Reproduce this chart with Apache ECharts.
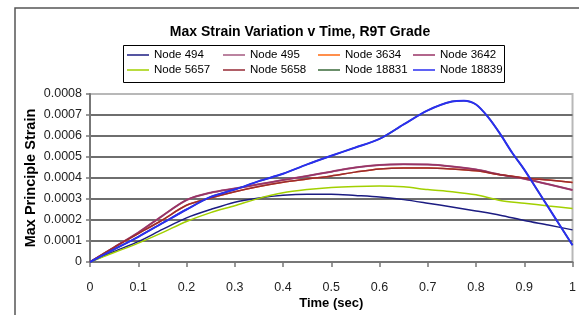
<!DOCTYPE html>
<html>
<head>
<meta charset="utf-8">
<script src="https://cdn.jsdelivr.net/npm/echarts@6/dist/echarts.min.js"></script>
<style>
html,body{margin:0;padding:0;background:#fff;}
#chart{width:579px;height:315px;}
</style>
</head>
<body>
<div id="chart"></div>
<script>
// ---- data ----
const timeSteps = [0,0.05,0.1,0.15,0.2,0.25,0.3,0.35,0.4,0.45,0.5,0.55,0.6,0.65,0.7,0.75,0.8,0.85,0.9,0.95,1];
const node494  = [0,0.00005,0.000097,0.000155,0.00021,0.00025,0.000285,0.000305,0.000318,0.000323,0.000323,0.000317,0.00031,0.000297,0.00028,0.000262,0.000243,0.000223,0.000198,0.000176,0.000153];
const node495  = [0,0.00007,0.00014,0.00022,0.000295,0.00033,0.00035,0.00037,0.00039,0.00041,0.00043,0.00045,0.000462,0.000465,0.000464,0.000455,0.00044,0.000416,0.000396,0.00037,0.000343];
const node3634 = [0,0.00007,0.000135,0.0002,0.00027,0.000305,0.000335,0.00036,0.00038,0.000395,0.00041,0.000428,0.000443,0.000448,0.000448,0.000443,0.000434,0.000416,0.0004,0.00039,0.000379];
const node3642 = [0,0.00007,0.00014,0.00022,0.000295,0.00033,0.00035,0.00037,0.00039,0.00041,0.00043,0.00045,0.000462,0.000465,0.000464,0.000455,0.00044,0.000416,0.000396,0.00037,0.000343];
const node5657 = [0,0.000045,0.00009,0.00014,0.000193,0.000235,0.000268,0.000303,0.00033,0.000345,0.000355,0.00036,0.000362,0.000358,0.000345,0.000335,0.00032,0.000293,0.00028,0.000267,0.000255];
const node5658 = [0,0.00007,0.000135,0.0002,0.00027,0.000305,0.000335,0.00036,0.00038,0.000395,0.00041,0.000428,0.000443,0.000448,0.000448,0.000443,0.000434,0.000416,0.0004,0.00039,0.000379];
const time18839 = [0,0.05,0.1,0.15,0.2,0.25,0.3,0.35,0.4,0.45,0.5,0.55,0.6,0.65,0.7,0.75,0.775,0.8,0.825,0.85,0.875,0.9,0.925,0.95,0.975,1];
const node18831 = [0,0.00006,0.00012,0.000185,0.00025,0.00031,0.000345,0.000385,0.00042,0.000465,0.000506,0.000545,0.000586,0.000655,0.000722,0.000764,0.000768,0.00075,0.00069,0.00061,0.00052,0.00044,0.00035,0.00026,0.00017,0.00008];
const node18839 = [0,0.00006,0.00012,0.000185,0.00025,0.00031,0.000345,0.000385,0.00042,0.000465,0.000506,0.000545,0.000586,0.000655,0.000722,0.000764,0.000768,0.00075,0.00069,0.00061,0.00052,0.00044,0.00035,0.00026,0.00017,0.00008];
const yTickLabels = ['0','0.0001','0.0002','0.0003','0.0004','0.0005','0.0006','0.0007','0.0008'];
const xTickLabels = ['0','0.1','0.2','0.3','0.4','0.5','0.6','0.7','0.8','0.9','1'];

const REG = '"Liberation Sans",Arial,sans-serif';

function pairs(t, v){ return t.map((x,i)=>[x, v[i]]); }

const seriesDefs = [
  {name:'Node 494',   t:timeSteps, v:node494,   color:'#1c1c82', w:1.5},
  {name:'Node 495',   t:timeSteps, v:node495,   color:'#a45a80', w:2},
  {name:'Node 3634',  t:timeSteps, v:node3634,  color:'#ff6a10', w:1.5},
  {name:'Node 3642',  t:timeSteps, v:node3642,  color:'#993366', w:1.5},
  {name:'Node 5657',  t:timeSteps, v:node5657,  color:'#a2d000', w:1.5},
  {name:'Node 5658',  t:timeSteps, v:node5658,  color:'#962a34', w:1.5},
  {name:'Node 18831', t:time18839, v:node18831, color:'#3a6a3a', w:1.5},
  {name:'Node 18839', t:time18839, v:node18839, color:'#2a2ef0', w:2}
];

const chart = echarts.init(document.getElementById('chart'), null, {renderer:'canvas'});

const legendCommon = {
  orient:'vertical', top:49, itemWidth:22, itemHeight:14, itemGap:3, padding:0,
  icon:'path://M0,6 L22,6 L22,7.5 L0,7.5 Z',
  textStyle:{fontFamily:REG, fontSize:11.5, color:'#000'},
  selectedMode:false
};

chart.setOption({
  backgroundColor:'#fff',
  animation:false,
  title:{
    text:'Max Strain Variation v Time, R9T Grade',
    left:300, top:25, textAlign:'center', padding:0,
    textStyle:{fontFamily:REG, fontSize:14, fontWeight:'bold', color:'#000'}
  },
  legend:[
    Object.assign({}, legendCommon, {left:127, data:['Node 494','Node 5657']}),
    Object.assign({}, legendCommon, {left:223, data:['Node 495','Node 5658']}),
    Object.assign({}, legendCommon, {left:318, data:['Node 3634','Node 18831']}),
    Object.assign({}, legendCommon, {left:413, data:['Node 3642','Node 18839']})
  ],
  graphic:[
    {type:'rect', shape:{x:15, y:8, width:700, height:400}, style:{fill:null, stroke:'#555', lineWidth:1.5}, silent:true, z:-10},
    {type:'rect', shape:{x:123.5, y:45.5, width:381, height:37}, style:{fill:null, stroke:'#000', lineWidth:1}, silent:true}
  ],
  grid:{left:90, right:2, top:94, bottom:49, show:true, borderColor:'#b8b8b8', borderWidth:2},
  xAxis:{
    type:'value', min:0, max:1, interval:0.1,
    name:'Time (sec)', nameLocation:'middle', nameGap:35, nameMoveOverlap:false,
    nameTextStyle:{fontFamily:REG, fontSize:13, fontWeight:'bold', color:'#000'},
    axisLine:{show:true, lineStyle:{color:'#777', width:2}},
    axisTick:{show:true, length:5, lineStyle:{color:'#777', width:1.5}},
    axisLabel:{margin:19, fontFamily:REG, fontSize:12.5, color:'#222',
      formatter:(v)=>xTickLabels[Math.round(v*10)]},
    splitLine:{show:false}
  },
  yAxis:{
    type:'value', min:0, max:0.0008, interval:0.0001,
    name:'Max Principle Strain', nameLocation:'middle', nameGap:52, nameRotate:90, nameMoveOverlap:false,
    nameTextStyle:{fontFamily:REG, fontSize:14.5, fontWeight:'bold', color:'#000'},
    axisLine:{show:true, lineStyle:{color:'#777', width:2}},
    axisTick:{show:true, length:4, lineStyle:{color:'#777', width:1.5}},
    axisLabel:{margin:8, fontFamily:REG, fontSize:12.5, color:'#222',
      formatter:(v)=>yTickLabels[Math.round(v/0.0001)]},
    splitLine:{show:true, showMinLine:false, showMaxLine:false, lineStyle:{color:'#6e6e6e', width:2}}
  },
  series: seriesDefs.map(s=>({
    name:s.name, type:'line', data:pairs(s.t, s.v), symbol:'none', smooth:0.3,
    color:s.color, lineStyle:{color:s.color, width:s.w}, z:3
  }))
});
</script>
</body>
</html>
